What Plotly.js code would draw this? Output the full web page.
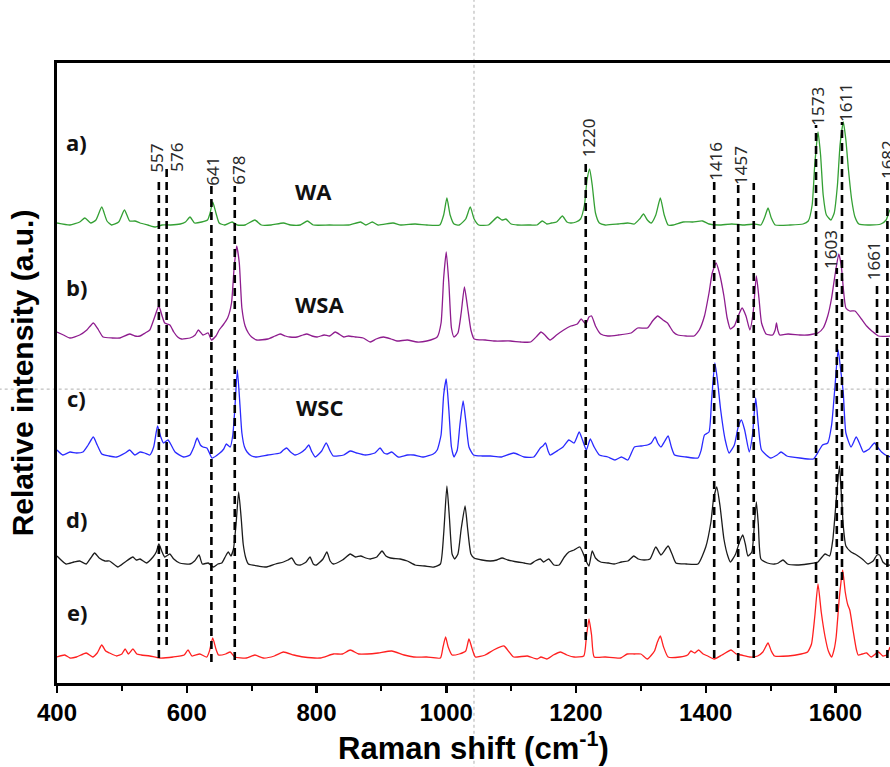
<!DOCTYPE html>
<html>
<head>
<meta charset="utf-8">
<script src="https://cdn.plot.ly/plotly-3.0.1.min.js"></script>
<style>
  html, body { margin: 0; padding: 0; background: #ffffff; }
  #chart { width: 890px; height: 767px; }
</style>
</head>
<body>
<div id="chart"></div>
<script>
// ---------------- DATA ----------------
// Raman shift (cm-1) and relative intensity above each spectrum's own baseline
const shiftA = [400,420,435,443,452,460,469,477,484,495,504,512,520,528,540,552,562,575,590,598,605,612,623,632,636,640,645,650,658,670,678,690,705,715,730,749,760,775,786,795,820,850,868,876,886,895,918,930,952,970,990,996,1001,1006,1012,1020,1030,1037,1043,1050,1065,1079,1086,1092,1100,1110,1130,1140,1148,1155,1162,1170,1179,1186,1192,1200,1207,1213,1217,1221,1225,1230,1236,1245,1265,1280,1290,1298,1304,1310,1316,1323,1330,1336,1342,1350,1365,1380,1395,1405,1420,1440,1460,1475,1485,1491,1496,1501,1507,1530,1550,1558,1564,1568,1573,1577,1581,1586,1593,1598,1603,1607,1612,1616,1620,1625,1630,1636,1650,1670,1678,1684,1690];
const intensityA = [2,0,3,7,2,5,18,4,0,3,15,4,4,2,0,-2,0,0,1,3,8,2,3,5,12,23,12,2,0,3,0,0,5,0,0,2,0,0,4,0,0,0,3,0,3,0,2,0,1,0,0,10,27,10,1,0,6,18,6,0,0,8,5,6,1,0,0,0,4,1,2,3,9,3,2,3,6,20,45,56,40,12,2,0,1,2,1,6,11,5,2,10,27,10,0,0,3,3,4,1,0,1,0,1,0,8,17,7,0,0,1,4,20,60,93,70,30,10,5,12,40,80,103,85,55,25,8,1,0,1,5,15,10];

const shiftB = [400,410,420,435,446,456,464,471,485,497,512,520,528,536,543,550,557,562,566,574,580,586,592,605,613,618,625,633,638,645,650,656,663,669,673,677,681,685,690,695,700,708,725,736,744,752,759,770,779,785,793,801,812,820,829,842,849,860,872,883,892,903,915,924,940,955,970,986,992,996,1000,1004,1008,1012,1018,1023,1028,1033,1038,1043,1060,1075,1099,1115,1130,1140,1146,1152,1160,1170,1181,1192,1202,1208,1215,1220,1224,1230,1238,1249,1265,1285,1295,1310,1318,1326,1334,1341,1350,1357,1370,1382,1390,1398,1405,1410,1416,1421,1428,1433,1438,1444,1450,1456,1462,1468,1473,1478,1482,1486,1493,1503,1507,1509,1511,1514,1527,1545,1557,1566,1573,1581,1588,1594,1599,1605,1609,1612,1616,1622,1630,1640,1648,1656,1666,1686];
const intensityB = [6,3,0,3,8,15,8,1,0,0,4,2,2,5,8,20,32,22,15,13,6,1,-1,0,3,8,3,5,-2,2,8,13,20,35,70,92,75,30,12,5,1,-2,-1,2,4,2,1,1,3,4,2,1,3,2,6,1,2,1,0,-4,-1,1,-1,-3,-2,-4,-3,1,15,60,86,55,10,1,5,25,51,30,8,-1,-2,-3,-3,-4,-4,2,6,3,-2,3,8,12,14,19,14,21,22,12,4,2,3,5,10,10,17,22,18,15,6,3,2,2,8,22,45,65,75,65,42,20,9,12,22,30,22,8,25,62,40,15,4,3,8,15,8,3,4,3,3,4,5,10,22,40,62,84,72,50,30,27,27,19,12,7,2,2];

const shiftC = [400,409,420,430,440,448,456,462,469,480,492,505,512,520,528,535,543,549,555,560,564,571,576,582,595,605,611,616,621,625,631,635,639,651,657,661,667,671,674,678,682,685,689,693,700,708,725,744,749,754,760,767,775,783,788,793,798,808,815,821,826,842,852,862,875,890,898,904,909,916,926,940,950,965,980,986,992,996,1000,1004,1008,1012,1017,1021,1026,1030,1035,1042,1055,1068,1085,1104,1120,1135,1145,1149,1153,1157,1160,1173,1180,1189,1197,1205,1210,1216,1222,1228,1236,1249,1260,1270,1280,1290,1300,1310,1316,1322,1326,1331,1337,1342,1347,1352,1370,1388,1393,1398,1405,1409,1414,1418,1423,1430,1436,1444,1450,1455,1460,1467,1472,1477,1481,1486,1500,1510,1516,1525,1545,1566,1575,1580,1588,1594,1599,1604,1608,1612,1616,1624,1632,1638,1643,1652,1660,1666,1671,1680,1686];
const intensityC = [5,0,3,2,3,10,18,10,1,-1,-2,2,5,0,3,2,0,8,29,18,12,15,10,3,-2,0,8,17,10,8,7,2,-3,2,6,11,8,20,45,85,50,22,8,3,-1,-2,0,2,5,7,3,0,2,6,10,3,-2,4,12,4,-1,0,4,2,0,2,7,2,1,3,-2,0,0,-2,1,5,20,60,76,45,8,-2,5,30,54,35,8,0,-1,-1,-2,2,-2,-2,7,9,12,4,0,5,8,15,12,23,15,5,16,8,0,-2,-5,-2,-5,8,9,10,12,18,12,8,14,19,8,0,-2,-3,5,20,23,55,92,75,45,15,2,10,28,35,25,3,20,57,30,5,-3,0,3,-1,-3,-4,5,10,12,30,67,105,85,62,22,8,18,10,3,6,12,7,3,-1,-2];

const shiftD = [400,414,426,435,445,452,458,465,474,481,494,505,517,522,528,538,548,553,557,562,566,574,580,589,605,612,619,624,633,641,648,654,660,664,668,672,676,680,684,687,691,695,710,723,737,749,756,762,768,775,784,790,795,800,810,816,821,826,840,852,860,868,876,883,893,901,907,914,929,940,952,967,981,991,996,1001,1005,1009,1013,1018,1023,1029,1033,1038,1043,1055,1068,1078,1086,1095,1110,1120,1130,1137,1145,1150,1158,1166,1174,1182,1189,1197,1206,1212,1217,1220,1225,1230,1238,1250,1259,1270,1280,1289,1296,1305,1314,1323,1331,1342,1348,1354,1370,1388,1400,1408,1412,1417,1422,1428,1434,1438,1446,1452,1457,1461,1465,1471,1475,1478,1481,1485,1495,1506,1512,1519,1526,1540,1557,1573,1578,1584,1591,1596,1600,1606,1609,1612,1616,1624,1630,1637,1643,1650,1658,1664,1668,1673,1680,1686];
const intensityD = [8,0,2,3,0,6,11,6,3,3,-3,2,7,4,5,1,7,12,20,12,7,10,5,1,0,3,9,0,1,-3,0,1,8,12,8,15,40,72,45,20,6,0,-2,-3,0,2,4,6,0,-1,2,7,0,-1,5,12,3,0,4,10,7,8,6,5,7,13,8,6,5,3,-1,-2,-3,0,30,78,45,10,5,10,35,58,35,10,6,4,3,4,6,4,2,1,0,3,5,2,5,-1,-1,7,12,14,17,9,1,-2,13,6,2,1,0,2,3,8,5,4,5,17,9,18,10,1,0,0,17,42,65,77,58,25,8,2,10,22,29,20,8,12,40,62,40,5,1,0,1,4,0,-1,0,2,6,10,8,25,55,98,70,38,18,12,10,7,4,0,3,9,9,2,-1,-1];

const shiftE = [400,412,420,430,445,455,462,469,475,481,492,500,505,510,517,523,530,543,558,579,596,602,608,620,631,635,640,645,649,660,667,674,692,705,718,735,749,765,780,806,826,840,852,865,878,895,916,935,950,970,991,995,999,1003,1009,1020,1030,1035,1040,1045,1060,1073,1089,1097,1104,1125,1140,1146,1155,1165,1176,1186,1197,1212,1216,1220,1224,1228,1245,1269,1279,1290,1300,1310,1321,1325,1330,1335,1342,1360,1372,1377,1383,1389,1396,1403,1413,1425,1439,1447,1455,1468,1480,1488,1496,1501,1506,1527,1547,1557,1563,1568,1573,1578,1584,1589,1594,1598,1601,1606,1611,1615,1619,1622,1627,1632,1635,1641,1648,1655,1666,1673,1679,1684];
const intensityE = [0,2,-1,0,4,0,4,12,6,4,1,3,8,3,8,3,2,1,-1,0,2,7,1,3,0,6,19,8,2,3,5,0,-1,2,-1,1,5,2,0,-1,3,3,7,3,3,4,6,2,0,0,-1,10,20,10,2,3,6,18,8,0,2,7,11,5,0,1,-2,0,-2,2,5,2,0,1,20,38,22,0,0,-1,3,3,3,-2,6,14,21,10,0,0,2,6,4,7,3,1,-2,2,7,3,2,0,1,5,14,6,1,1,3,5,13,40,73,45,20,6,0,8,20,60,87,65,52,47,27,8,2,3,4,0,5,1,2,10];

const spectraShift = [shiftA, shiftB, shiftC, shiftD, shiftE];
const spectraIntensity = [intensityA, intensityB, intensityC, intensityD, intensityE];
const spectrumOffset = [458, 345, 228, 119, 26];           // vertical stacking offsets
const spectrumLetter = ['a)', 'b)', 'c)', 'd)', 'e)'];
const sampleName = ['WA', 'WSA', 'WSC'];

// marked bands (dashed lines) : position and printed label
const bandShift = [557, 569, 638, 674, 1215, 1413, 1450, 1474, 1570, 1602, 1610, 1664, 1680];
const bandLabel = ['557', '576', '641', '678', '1220', '1416', '1457', '', '1573', '1603', '1611', '1661', '1682'];

// x tick values
const xTicks = [400, 600, 800, 1000, 1200, 1400, 1600];

// ---------------- PRESENTATION ----------------
const lineColors = ['#34a034', '#8e1c8e', '#2a2aff', '#1c1c1c', '#ff2020'];
const bandTop = [505, 514, 497, 497, 520, 503, 498, 500, 558, 415, 561, 398, 505];
const bandBottom = [25, 38, 21, 23, 43, 25, 22, 25, 100, 71, 103, 25, 25];
const bandLabelX = [552, 583, 638.5, 678.6, 1219, 1414, 1452.7, null, 1571, 1591.5, 1614.6, 1658, 1679.5];
const bandLabelY = [525, 526, 512, 513, 545, 522, 518, null, 577, 434, 581, 422, 523];
const letterY = [541, 396, 285, 164, 71];
const nameX = [796, 805, 805];
const nameY = [492, 379, 276];

const traces = spectraShift.map((xs, i) => ({
  type: 'scatter',
  mode: 'lines',
  x: xs,
  y: spectraIntensity[i].map(v => v + spectrumOffset[i]),
  line: { color: lineColors[i], width: 1.3, shape: 'spline', smoothing: 0.5 },
  hoverinfo: 'skip',
  showlegend: false
}));

const shapes = bandShift.map((b, i) => ({
  type: 'line', xref: 'x', yref: 'y',
  x0: b, x1: b, y0: bandBottom[i], y1: bandTop[i],
  line: { color: '#000000', width: 2.6, dash: '8px,5px' },
  layer: 'above'
}));
// light grey dotted guide lines seen in the reference image
shapes.push({ type: 'line', xref: 'paper', yref: 'paper', x0: 0.5006, x1: 0.5006, y0: -0.14, y1: 1.11,
  line: { color: '#b0b0b0', width: 1, dash: '3px,3px' }, layer: 'below' });
shapes.push({ type: 'line', xref: 'paper', yref: 'paper', x0: -0.07, x1: 1.0, y0: 0.474, y1: 0.474,
  line: { color: '#b0b0b0', width: 1, dash: '3px,3px' }, layer: 'below' });

const annotations = [];
bandLabel.forEach((t, i) => {
  if (!t) return;
  annotations.push({
    text: t, x: bandLabelX[i], y: bandLabelY[i], xref: 'x', yref: 'y',
    textangle: -90, showarrow: false, xanchor: 'center', yanchor: 'middle',
    font: { family: 'Noto Sans, sans-serif', size: 17, color: '#2a2a2a' }
  });
});
spectrumLetter.forEach((t, i) => {
  annotations.push({
    text: '<b>' + t + '</b>', x: 0.024, y: letterY[i], xref: 'paper', yref: 'y',
    showarrow: false, xanchor: 'center', yanchor: 'middle',
    font: { family: 'Open Sans, sans-serif', size: 22, color: '#111111' }
  });
});
sampleName.forEach((t, i) => {
  annotations.push({
    text: '<b>' + t + '</b>', x: nameX[i], y: nameY[i], xref: 'x', yref: 'y',
    showarrow: false, xanchor: 'center', yanchor: 'middle',
    font: { family: 'Open Sans, sans-serif', size: 22, color: '#111111' }
  });
});

const layout = {
  width: 890, height: 767,
  margin: { l: 57, r: 0, t: 63, b: 84 },
  paper_bgcolor: '#ffffff', plot_bgcolor: '#ffffff',
  showlegend: false,
  xaxis: {
    range: [400, 1684], autorange: false,
    tickvals: xTicks, ticktext: xTicks.map(String),
    ticks: 'outside', ticklen: 7, tickwidth: 2.5, tickcolor: '#000',
    minor: { dtick: 100, tick0: 400, ticks: 'outside', ticklen: 5, tickwidth: 2, tickcolor: '#000', showgrid: false },
    showline: true, linewidth: 2.6, linecolor: '#000', mirror: true,
    showgrid: false, zeroline: false,
    tickfont: { family: 'Liberation Sans, Arial, sans-serif', size: 24, color: '#000', weight: 'bold' },
    title: { text: '<b>Raman shift (cm<sup>-1</sup>)</b>', standoff: 6,
      font: { family: 'Liberation Sans, Arial, sans-serif', size: 31, color: '#000' } }
  },
  yaxis: {
    range: [0, 620], autorange: false,
    showticklabels: false, ticks: '',
    showline: true, linewidth: 2.6, linecolor: '#000', mirror: false,
    showgrid: false, zeroline: false,
    title: { text: '<b>Relative intensity (a.u.)</b>', standoff: 12,
      font: { family: 'Liberation Sans, Arial, sans-serif', size: 30, color: '#000' } }
  },
  shapes: shapes,
  annotations: annotations
};

Plotly.newPlot('chart', traces, layout, { displayModeBar: false, staticPlot: true });
</script>
</body>
</html>
